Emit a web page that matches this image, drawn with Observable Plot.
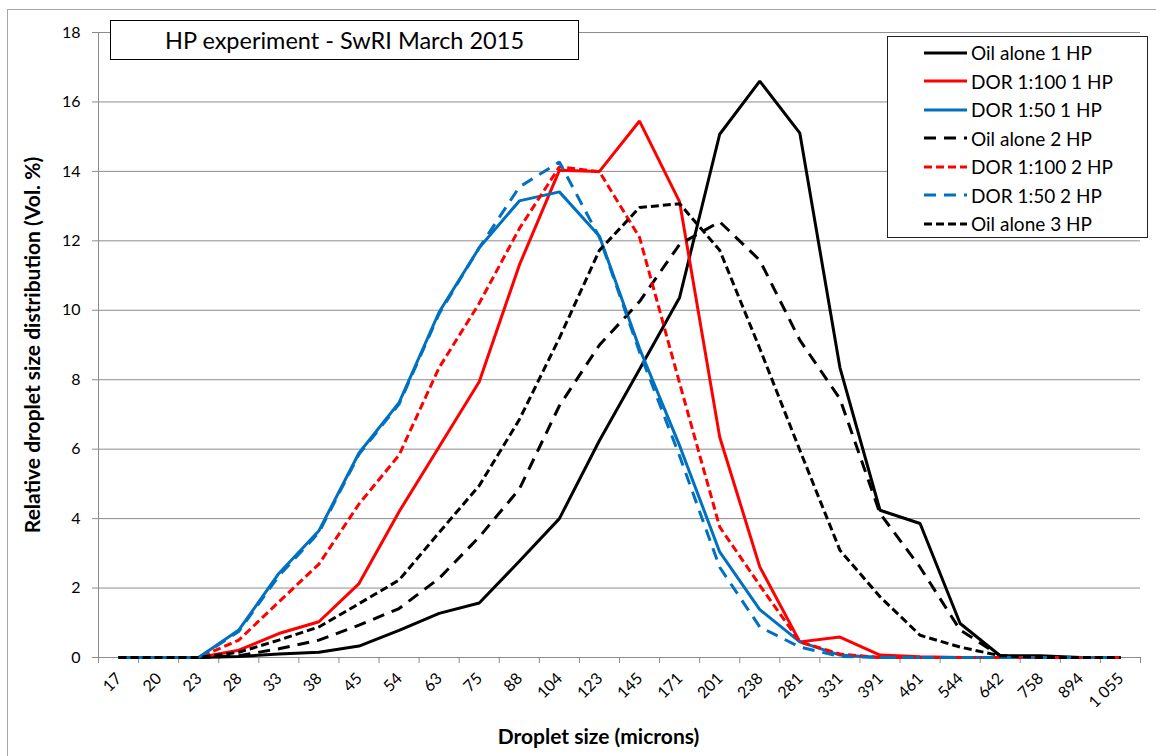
<!DOCTYPE html>
<html>
<head>
<meta charset="utf-8">
<script src="https://cdn.jsdelivr.net/npm/d3@7"></script>
<script src="https://cdn.jsdelivr.net/npm/@observablehq/plot@0.6"></script>
<style>
  html, body { margin: 0; padding: 0; background: #fff; }
  #wrap { position: relative; width: 1156px; height: 756px; overflow: hidden; font-family: Lato, sans-serif; }
  #frame { position: absolute; left: 7px; top: 9px; width: 1200px; height: 800px; border: 1px solid #a6a6a6; box-sizing: border-box; }
  #chart { position: absolute; left: 0; top: 0; }
  #title { position: absolute; left: 110px; top: 20px; width: 469px; height: 40px; box-sizing: border-box; border: 1px solid #000; background: #fff; display: flex; align-items: center; justify-content: center; font-size: 23.5px; color: #000; }
  #legend { position: absolute; left: 887px; top: 36px; width: 261px; height: 202px; box-sizing: border-box; border: 1px solid #222; background: #fff; }
  .row { position: absolute; left: 0; height: 28px; display: flex; align-items: center; font-size: 19px; color: #000; white-space: nowrap; }
  .row svg { margin-left: 36px; margin-right: 4px; }
</style>
</head>
<body>
<div id="wrap">
  <div id="frame"></div>
  <div id="chart"></div>
  <div id="title">HP experiment - SwRI March 2015</div>
  <div id="legend"></div>
</div>
<script>
const sizes = ["17","20","23","28","33","38","45","54","63","75","88","104","123","145","171","201","238","281","331","391","461","544","642","758","894","1 055"];
const yTicks = [0,2,4,6,8,10,12,14,16,18];

const seriesNames = ["Oil alone 1 HP","DOR 1:100 1 HP","DOR 1:50 1 HP","Oil alone 2 HP","DOR 1:100 2 HP","DOR 1:50 2 HP","Oil alone 3 HP"];
const oilAlone1 = [0,0,0,0.03,0.1,0.15,0.33,0.78,1.27,1.57,2.77,4.0,6.25,8.3,10.37,15.07,16.6,15.1,8.35,4.24,3.86,0.98,0.05,0.05,0,0];
const dor100_1 = [0,0,0,0.21,0.69,1.03,2.13,4.2,6.07,7.94,11.3,14.03,14.0,15.45,13.12,6.35,2.61,0.45,0.59,0.07,0.02,0,0,0,0,0];
const dor50_1  = [0,0,0,0.79,2.42,3.65,5.89,7.34,9.95,11.8,13.15,13.41,12.13,8.9,6.1,3.04,1.38,0.45,0.07,0,0,0,0,0,0,0];
const oilAlone2 = [0,0,0,0.05,0.25,0.5,0.93,1.41,2.28,3.47,4.85,7.25,9.0,10.25,11.9,12.55,11.44,9.14,7.45,4.15,2.6,0.79,0.05,0,0,0];
const dor100_2 = [0,0,0,0.5,1.6,2.69,4.42,5.83,8.35,10.2,12.35,14.13,13.99,12.1,7.9,3.76,2.08,0.45,0.1,0,0,0,0,0,0,0];
const dor50_2  = [0,0,0,0.75,2.35,3.6,5.85,7.3,9.9,11.8,13.55,14.27,12.1,8.8,5.8,2.6,0.88,0.3,0.03,0,0,0,0,0,0,0];
const oilAlone3 = [0,0,0,0.15,0.5,0.88,1.55,2.23,3.6,4.95,6.85,9.2,11.73,12.96,13.07,11.73,8.9,5.97,3.09,1.75,0.64,0.3,0.05,0,0,0];

const seriesValues = [oilAlone1, dor100_1, dor50_1, oilAlone2, dor100_2, dor50_2, oilAlone3];
const seriesColors = ["#000000","#ff0000","#0070c0","#000000","#ff0000","#0070c0","#000000"];
const seriesDash = [null, null, null, "12,8", "8,4", "12,8", "8,4"];

const idx = d3.range(sizes.length);
const bounds = d3.range(sizes.length + 1).map(i => i - 0.5);
const gray = "#8c8c8c";

const lineMarks = seriesValues.map((vals, k) =>
  Plot.line(vals, {
    x: (d, i) => i, y: d => d,
    stroke: seriesColors[k], strokeWidth: 3,
    strokeDasharray: seriesDash[k] || undefined,
    strokeLinejoin: "miter", strokeLinecap: "butt"
  })
);

const chart = Plot.plot({
  width: 1156, height: 756,
  marginLeft: 98, marginRight: 16, marginTop: 32, marginBottom: 99,
  x: {domain: [-0.5, sizes.length - 0.5], axis: null},
  y: {domain: [0, 18], axis: null},
  style: {fontFamily: "Lato, sans-serif", fontSize: "15px", color: "#000", background: "transparent"},
  marks: [
    Plot.gridY(yTicks, {stroke: gray, strokeOpacity: 1, strokeWidth: 1}),
    Plot.ruleX([-0.5], {stroke: gray}),
    Plot.ruleY([0], {stroke: gray}),
    Plot.axisY(yTicks, {tickSize: 6, tickPadding: 12, stroke: gray, fill: "#000", label: null, fontSize: 16}),
    Plot.axisX(bounds, {tickSize: 6, tickFormat: () => "", stroke: gray, label: null}),
    Plot.text(idx, {x: d => d, text: d => sizes[d], frameAnchor: "bottom", rotate: -45, textAnchor: "end", dx: 4, dy: 22, fontSize: 16, fill: "#000"}),
    ...lineMarks,
    Plot.text(["Droplet size (microns)"], {frameAnchor: "bottom", textAnchor: "middle", lineAnchor: "middle", dx: -21, dy: 80, fontWeight: "bold", fontSize: 21, fill: "#000"}),
    Plot.text(["Relative droplet size distribution (Vol. %)"], {frameAnchor: "left", textAnchor: "middle", lineAnchor: "middle", rotate: -90, dx: -65, fontWeight: "bold", fontSize: 21, fill: "#000"})
  ]
});
document.getElementById("chart").appendChild(chart);

// legend
const legend = document.getElementById("legend");
seriesNames.forEach((name, k) => {
  const row = document.createElement("div");
  row.className = "row";
  row.style.top = (1.7 + 28.5 * k) + "px";
  const ns = "http://www.w3.org/2000/svg";
  const svg = document.createElementNS(ns, "svg");
  svg.setAttribute("width", 43); svg.setAttribute("height", 6);
  const ln = document.createElementNS(ns, "line");
  ln.setAttribute("x1", 0); ln.setAttribute("x2", 43);
  ln.setAttribute("y1", 3); ln.setAttribute("y2", 3);
  ln.setAttribute("stroke", seriesColors[k]); ln.setAttribute("stroke-width", 3);
  if (seriesDash[k]) ln.setAttribute("stroke-dasharray", seriesDash[k]);
  svg.appendChild(ln);
  const span = document.createElement("span");
  span.textContent = name;
  row.appendChild(svg); row.appendChild(span);
  legend.appendChild(row);
});
</script>
</body>
</html>
